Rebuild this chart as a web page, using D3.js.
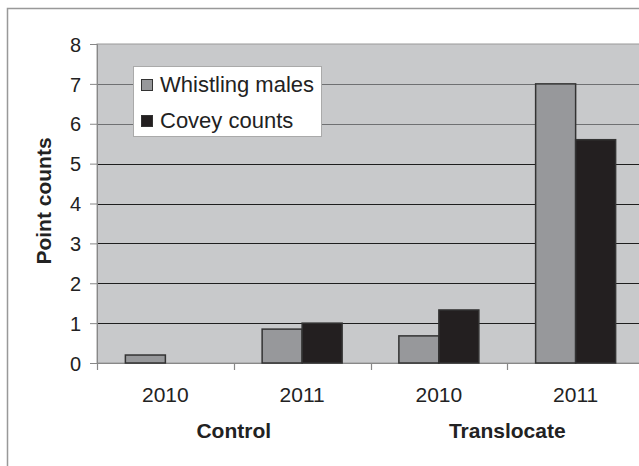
<!DOCTYPE html>
<html><head><meta charset="utf-8">
<script src="https://cdn.jsdelivr.net/npm/d3@7"></script>
<style>body{margin:0;background:#fff}svg{display:block}</style>
</head><body>
<script>
const groups = ["Control", "Translocate"];
const years = ["2010", "2011"];
const categories = ["Control 2010", "Control 2011", "Translocate 2010", "Translocate 2011"];
const seriesNames = ["Whistling males", "Covey counts"];
const whistling = [0.2, 0.85, 0.68, 7.0];
const covey = [0, 1.0, 1.33, 5.6];
const yTicks = [0, 1, 2, 3, 4, 5, 6, 7, 8];

const W = 639, H = 466;
const svg = d3.select("body").append("svg").attr("width", W).attr("height", H);
const font = "Arial, 'Liberation Sans', sans-serif";

// outer chart border
svg.append("rect").attr("x", 7.5).attr("y", 8.5).attr("width", 700).attr("height", 600)
  .attr("fill", "#fff").attr("stroke", "#999").attr("stroke-width", 1.5);

const m = {l: 97, t: 44, b: 363, r: 644};
const x = d3.scaleBand().domain(categories).range([m.l, m.r]);
const y = d3.scaleLinear().domain([0, 8]).range([m.b, m.t]);

// plot bg
svg.append("rect").attr("x", m.l).attr("y", m.t).attr("width", m.r - m.l).attr("height", m.b - m.t)
  .attr("fill", "#c8c9cb").attr("stroke", "#999").attr("stroke-width", 1);

// gridlines
svg.append("g").selectAll("line").data(yTicks.filter(d => d > 0 && d < 8)).join("line")
  .attr("x1", m.l).attr("x2", m.r).attr("y1", d => Math.round(y(d)) + 0.5).attr("y2", d => Math.round(y(d)) + 0.5)
  .attr("stroke", d => d >= 6 ? "#6f7072" : "#1e1e1e").attr("stroke-width", 1.2);

// y axis
const yAxis = d3.axisLeft(y).tickValues(yTicks).tickSize(7).tickPadding(9).tickFormat(d3.format("d"));
const gy = svg.append("g").attr("transform", `translate(${m.l},0)`).call(yAxis);
gy.select(".domain").attr("stroke", "#888");
gy.selectAll(".tick line").attr("stroke", "#888");
gy.selectAll("text").attr("font-family", font).attr("font-size", 20).attr("fill", "#222").attr("dy", "0.36em");

// x axis
const boundaries = [0, 1, 2, 3, 4].map(i => m.l + i * x.step());
svg.append("line").attr("x1", m.l).attr("x2", m.r).attr("y1", m.b + 0.5).attr("y2", m.b + 0.5).attr("stroke", "#888").attr("stroke-width", 1.2);
svg.append("g").selectAll("line").data(boundaries).join("line")
  .attr("x1", d => Math.round(d) + 0.5).attr("x2", d => Math.round(d) + 0.5)
  .attr("y1", m.b).attr("y2", m.b + 7).attr("stroke", "#888").attr("stroke-width", 1.2);
svg.append("g").selectAll("text").data(categories).join("text")
  .attr("x", d => x(d) + x.bandwidth() / 2).attr("y", 402)
  .attr("text-anchor", "middle").attr("font-family", font).attr("font-size", 21).attr("fill", "#222")
  .text((d, i) => years[i % 2]);
svg.append("g").selectAll("text").data(groups).join("text")
  .attr("x", (d, i) => x(categories[i * 2 + 1]))
  .attr("y", 438).attr("text-anchor", "middle").attr("font-family", font).attr("font-size", 21)
  .attr("font-weight", "bold").attr("fill", "#222").text(d => d);

// y title
svg.append("text").attr("transform", "translate(51,201) rotate(-90)").attr("text-anchor", "middle")
  .attr("font-family", font).attr("font-size", 21).attr("font-weight", "bold").attr("fill", "#222")
  .text("Point counts");

// bars
const barW = 40;
const colors = ["#97989b", "#231f20"];
const data = [whistling, covey];
data.forEach((vals, s) => {
  svg.append("g").selectAll("rect").data(categories).join("rect")
    .attr("x", d => x(d) + x.bandwidth() / 2 - barW + s * barW)
    .attr("y", (d, i) => y(vals[i]))
    .attr("width", barW)
    .attr("height", (d, i) => y(0) - y(vals[i]))
    .attr("fill", colors[s]).attr("stroke", "#333").attr("stroke-width", 1.5)
    .attr("display", (d, i) => vals[i] > 0 ? null : "none");
});

// legend
const lg = svg.append("g").attr("transform", "translate(133.5,66.5)");
lg.append("rect").attr("width", 188).attr("height", 70).attr("fill", "#fff").attr("stroke", "#aaa").attr("stroke-width", 1);
seriesNames.forEach((n, i) => {
  const yy = 13 + i * 36;
  lg.append("rect").attr("x", 8).attr("y", yy).attr("width", 11).attr("height", 11)
    .attr("fill", colors[i]).attr("stroke", "#333").attr("stroke-width", 1);
  lg.append("text").attr("x", 26.5).attr("y", yy + 12).attr("font-family", font).attr("font-size", 22)
    .attr("fill", "#222").text(n);
});
</script>
</body></html>
